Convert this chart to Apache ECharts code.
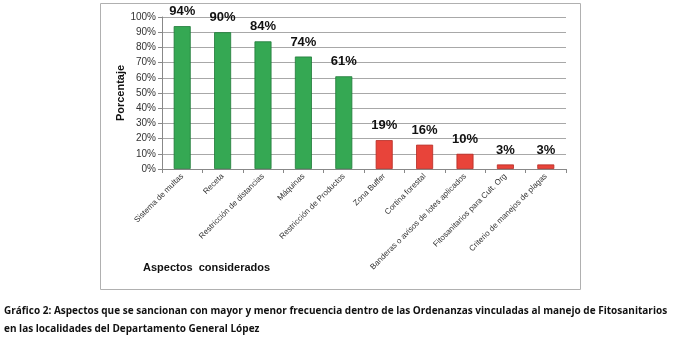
<!DOCTYPE html>
<html><head><meta charset="utf-8">
<script src="https://cdn.jsdelivr.net/npm/echarts@6/dist/echarts.min.js"></script>
<style>html,body{margin:0;padding:0;background:#fff}#c{width:675px;height:345px}</style>
</head><body><div id="c"></div>
<script>
var categories = ['Sistema de multas','Receta','Restricción de distancias','Máquinas','Restricción de Productos','Zona Buffer','Cortina forestal','Banderas o avisos de lotes aplicados','Fitosanitarios para Cult. Org','Criterio de manejos de plagas'];
var values = [94, 90, 84, 74, 61, 19, 16, 10, 3, 3];
var groups = ['mayor','mayor','mayor','mayor','mayor','menor','menor','menor','menor','menor'];
var yTicks = [0,10,20,30,40,50,60,70,80,90,100];
var colorMap = {mayor:'#35a853', menor:'#e8443a'};
var borderMap = {mayor:'#1f7a38', menor:'#b52a22'};

var chart = echarts.init(document.getElementById('c'), null, {renderer:'canvas'});
chart.setOption({
  animation:false,
  grid:{left:162, right:109, top:17, bottom:176},
  xAxis:{type:'category', data:categories,
    axisLine:{lineStyle:{color:'#888'}},
    axisTick:{show:true, length:4, lineStyle:{color:'#888'}},
    axisLabel:{rotate:45, interval:0, fontSize:8, color:'#333', fontFamily:'Liberation Sans', margin:6}},
  yAxis:{type:'value', min:yTicks[0], max:yTicks[yTicks.length-1], interval:10,
    name:'Porcentaje', nameLocation:'middle', nameRotate:90, nameGap:36, nameMoveOverlap:false,
    nameTextStyle:{fontSize:11, fontWeight:'bold', color:'#111', fontFamily:'Liberation Sans'},
    axisLine:{show:true, lineStyle:{color:'#888'}},
    axisTick:{show:true, length:4, lineStyle:{color:'#888'}},
    splitLine:{lineStyle:{color:'#a8a8a8'}},
    axisLabel:{formatter:'{value}%', fontSize:10, color:'#333', fontFamily:'Liberation Sans', margin:6}},
  series:[{type:'bar', barWidth:17,
    data: values.map(function(v,i){return {value:v, itemStyle:{color:colorMap[groups[i]], borderColor:borderMap[groups[i]], borderWidth:0.8}};}),
    label:{show:true, position:'top', distance:8, formatter:'{c}%', fontSize:13, fontWeight:'bold', color:'#111', fontFamily:'Liberation Sans'}
  }],
  graphic:[
    {type:'rect', shape:{x:100.5, y:3.5, width:480, height:286}, style:{fill:'none', stroke:'#b0b0b0', lineWidth:1}, z:-1},
    {type:'text', left:143, top:262, style:{text:'Aspectos  considerados', font:'bold 11px "Liberation Sans"', fill:'#111'}},
    {type:'text', x:4, y:305, scaleX:0.91, style:{text:'Gráfico 2: Aspectos que se sancionan con mayor y menor frecuencia dentro de las Ordenanzas vinculadas al manejo de Fitosanitarios', font:'bold 11px "Open Sans"', fill:'#111'}},
    {type:'text', x:4, y:323, scaleX:0.91, style:{text:'en las localidades del Departamento General López', font:'bold 11px "Open Sans"', fill:'#111'}}
  ]
});
</script></body></html>
